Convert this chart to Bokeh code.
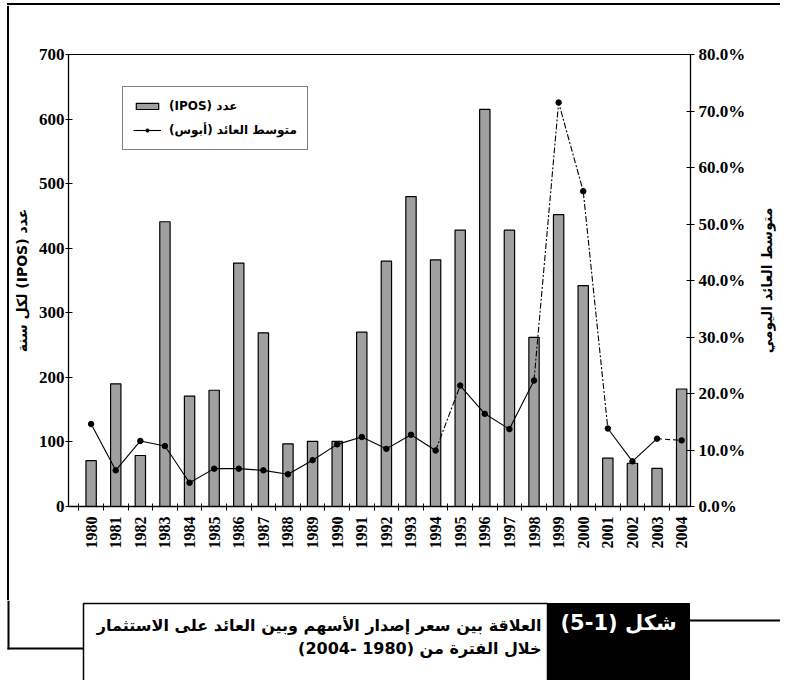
import math
from bokeh.plotting import figure
from bokeh.layouts import column, row
from bokeh.models import (Range1d, LinearAxis, FixedTicker, NumeralTickFormatter,
                          Legend, LegendItem, Div, Spacer)
from bokeh.core.properties import value
from bokeh.embed import file_html
from bokeh.resources import INLINE

# ---------------- data ----------------
years = ["1980", "1981", "1982", "1983", "1984", "1985", "1986", "1987", "1988",
         "1989", "1990", "1991", "1992", "1993", "1994", "1995", "1996", "1997",
         "1998", "1999", "2000", "2001", "2002", "2003", "2004"]
ipos_count = [71, 190, 79, 441, 171, 180, 377, 269, 97, 101, 101, 270, 380,
              480, 382, 428, 615, 428, 262, 452, 342, 75, 67, 59, 182]
avg_return = [0.146, 0.064, 0.116, 0.107, 0.042, 0.067, 0.067, 0.064, 0.057,
              0.082, 0.110, 0.123, 0.102, 0.127, 0.099, 0.214, 0.164, 0.137,
              0.223, 0.715, 0.558, 0.138, 0.080, 0.120, 0.117]
left_ticks = [0, 100, 200, 300, 400, 500, 600, 700]
right_ticks = [0.0, 0.1, 0.2, 0.3, 0.4, 0.5, 0.6, 0.7, 0.8]

RLE, PDF = "\u202b", "\u202c"
legend_bar_label = "عدد (IPOS)"
legend_line_label = "متوسط العائد (أبوس)"
left_title = "عدد (IPOS) لكل سنة"
right_title = "متوسط العائد اليومي"
caption_line1 = "العلاقة بين سعر إصدار الأسهم وبين العائد على الاستثمار"
caption_line2 = "خلال الفترة من (1980 -2004)"
fig_label = "شكل (1-5)"

idx = list(range(len(years)))
serif = "Liberation Serif"
arab = "DejaVu Sans"

W, H = 780, 680
TOP_H = 6          # top strip (frame line inside)
SIDE_W = 10        # left strip (frame line inside)
TITLE_W = 28       # right title strip
MAIN_H = 594
CAP_H = H - TOP_H - MAIN_H
MAIN_W = W - SIDE_W - TITLE_W
FL, FR, FT, FB = 66, 690, 54, 506   # plot frame edges, page px


def black_bar(w, h):
    return Div(text="", width=w, height=h, margin=0,
               styles={"background-color": "black"})


def gap(w, h):
    return Spacer(width=w, height=h, margin=0)


top_block = column(gap(W, 3), row(gap(7, 2), black_bar(W - 7, 2)), gap(W, 1))
left_block = row(gap(7, MAIN_H), black_bar(2, MAIN_H), gap(1, MAIN_H))

# ---------------- main chart ----------------
p = figure(width=MAIN_W, height=MAIN_H, output_backend="svg", toolbar_location=None,
           x_range=Range1d(-0.92, 24.36), y_range=Range1d(0, 700),
           min_border_left=FL - SIDE_W, min_border_right=SIDE_W + MAIN_W - FR,
           min_border_top=FT - TOP_H, min_border_bottom=TOP_H + MAIN_H - FB,
           background_fill_color="white", border_fill_color="white")
p.extra_y_ranges = {"ret": Range1d(0, 0.8)}
p.xgrid.visible = False
p.ygrid.visible = False
p.outline_line_color = "black"
p.outline_line_width = 1

bars = p.vbar(x=idx, top=ipos_count, width=0.42, fill_color="#a0a0a0",
              line_color="black", line_width=1.2)


def seg(a, b, dash="solid"):
    return p.line(idx[a:b + 1], avg_return[a:b + 1], y_range_name="ret",
                  line_color="black", line_width=1.1, line_dash=dash)


ln = seg(0, 14)
seg(14, 15, "6 2 2 2")
seg(15, 18)
seg(18, 21, "6 2 2 2")
seg(21, 23)
seg(23, 24, "5 3")
pts = p.scatter(idx, avg_return, y_range_name="ret", marker="circle", size=5.5,
                fill_color="black", line_color="black")

# x axis
xa = p.xaxis[0]
xa.ticker = FixedTicker(ticks=idx, minor_ticks=[i - 0.5 for i in range(len(years) + 1)])
xa.major_label_overrides = {i: years[i] for i in idx}
xa.major_label_orientation = math.pi / 2
xa.major_tick_in = 0
xa.major_tick_out = 0
xa.minor_tick_in = 3
xa.minor_tick_out = 4
xa.minor_tick_line_color = "black"
xa.major_label_standoff = 6
xa.major_label_text_font = serif
xa.major_label_text_font_style = "bold"
xa.major_label_text_font_size = "16px"
xa.major_label_text_color = "black"
xa.axis_line_color = "black"
xa.axis_line_width = 1.3

# left axis
ya = p.yaxis[0]
ya.ticker = FixedTicker(ticks=left_ticks)
ya.major_tick_in = 4
ya.major_tick_out = 3
ya.minor_tick_line_color = None
ya.major_label_standoff = 1
ya.major_label_text_font = serif
ya.major_label_text_font_style = "bold"
ya.major_label_text_font_size = "17px"
ya.major_label_text_color = "black"
ya.axis_line_color = "black"
ya.axis_line_width = 1.3
ya.axis_label = RLE + left_title + PDF
ya.axis_label_standoff = 6
ya.axis_label_text_font = arab
ya.axis_label_text_font_style = "bold"
ya.axis_label_text_font_size = "14px"
ya.axis_label_text_color = "black"

# right axis
ra = LinearAxis(y_range_name="ret", ticker=FixedTicker(ticks=right_ticks),
                formatter=NumeralTickFormatter(format="0.0%"))
ra.major_tick_in = 4
ra.major_tick_out = 4
ra.minor_tick_line_color = None
ra.major_label_standoff = 4
ra.major_label_text_font = serif
ra.major_label_text_font_style = "bold"
ra.major_label_text_font_size = "17px"
ra.major_label_text_color = "black"
ra.axis_line_color = "black"
ra.axis_line_width = 1.3
p.add_layout(ra, "right")

legend = Legend(items=[LegendItem(label=RLE + legend_bar_label + PDF, renderers=[bars]),
                       LegendItem(label=RLE + legend_line_label + PDF, renderers=[ln, pts])],
                location=(54, 356), orientation="vertical",
                border_line_color="black", border_line_width=1,
                background_fill_color="white", background_fill_alpha=1,
                glyph_width=28, glyph_height=8, label_height=18,
                label_standoff=8, spacing=6, padding=10, margin=0,
                label_text_font=arab, label_text_font_style="bold",
                label_text_font_size="12px", label_text_color="black")
p.add_layout(legend, "center")

# ---------------- right title strip ----------------
tf = figure(width=TITLE_W, height=MAIN_H, output_backend="svg", toolbar_location=None,
            x_range=Range1d(0, 1), y_range=Range1d(0, 1),
            x_axis_location=None, y_axis_location=None, min_border=0,
            background_fill_color="white", border_fill_color="white",
            outline_line_color=None)
tf.xgrid.visible = False
tf.ygrid.visible = False
tf.text(x=[0.5], y=[0.5], text=[RLE + right_title + PDF], angle=math.pi / 2,
        text_align="center", text_baseline="middle", text_font=value(arab),
        text_font_style="bold", text_font_size="14px", text_color="black")

# ---------------- caption strip (data units == page px) ----------------
cy0 = TOP_H + MAIN_H
cap = figure(width=W, height=CAP_H, output_backend="svg", toolbar_location=None,
             x_range=Range1d(0, W), y_range=Range1d(H, cy0),
             x_axis_location=None, y_axis_location=None, min_border=0,
             background_fill_color="white", border_fill_color="white",
             outline_line_color=None)
cap.xgrid.visible = False
cap.ygrid.visible = False
cap.quad(left=[7], right=[9], top=[cy0], bottom=[649], fill_color="black", line_color=None)
cap.quad(left=[7], right=[83], top=[647], bottom=[649], fill_color="black", line_color=None)
cap.quad(left=[689], right=[W], top=[619], bottom=[621], fill_color="black", line_color=None)
cap.quad(left=[83], right=[547], top=[603], bottom=[H + 5], fill_color="white",
         line_color="black", line_width=1.5)
cap.quad(left=[547], right=[689], top=[603], bottom=[H + 5], fill_color="black",
         line_color="black", line_width=1)
cap.text(x=[541, 541], y=[625, 648],
         text=[RLE + caption_line1 + PDF, RLE + caption_line2 + PDF],
         text_align="right", text_baseline="middle", text_font=value(arab),
         text_font_style="bold", text_font_size="16px", text_color="black")
cap.text(x=[618], y=[622], text=[RLE + fig_label + PDF],
         text_align="center", text_baseline="middle", text_font=value(arab),
         text_font_style="bold", text_font_size="21px", text_color="white")

layout = column(top_block, row(left_block, p, tf), cap)
open("out.html", "w").write(file_html(layout, INLINE))
